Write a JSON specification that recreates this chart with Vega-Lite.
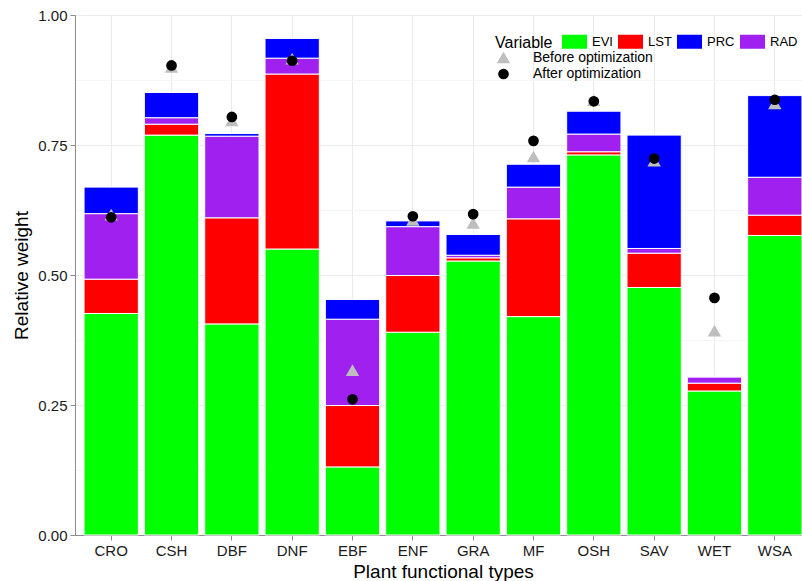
{
  "$schema": "https://vega.github.io/schema/vega-lite/v6.json",
  "width": 727,
  "height": 520,
  "autosize": {"type": "none"},
  "padding": {"left": 75, "top": 15, "right": 0, "bottom": 46},
  "background": "white",
  "config": {
    "font": "Liberation Sans",
    "view": {"stroke": null},
    "axis": {
      "domainColor": "#8c8c8c",
      "tickColor": "#8c8c8c",
      "labelColor": "#1a1a1a",
      "titleColor": "#000000",
      "labelFontSize": 15,
      "titleFontSize": 19,
      "titleFontWeight": "normal",
      "tickSize": 5,
      "labelPadding": 3,
      "gridColor": "#ebebeb"
    },
    "legend": {"labelColor": "#000000", "titleColor": "#000000", "labelFont": "Liberation Sans", "titleFont": "Liberation Sans"}
  },
  "datasets": {
    "bars": [
      {"pft": "CRO", "Variable": "EVI", "w": 0.426}, {"pft": "CRO", "Variable": "LST", "w": 0.066}, {"pft": "CRO", "Variable": "RAD", "w": 0.126}, {"pft": "CRO", "Variable": "PRC", "w": 0.051},
      {"pft": "CSH", "Variable": "EVI", "w": 0.769}, {"pft": "CSH", "Variable": "LST", "w": 0.021}, {"pft": "CSH", "Variable": "RAD", "w": 0.0125}, {"pft": "CSH", "Variable": "PRC", "w": 0.0485},
      {"pft": "DBF", "Variable": "EVI", "w": 0.406}, {"pft": "DBF", "Variable": "LST", "w": 0.204}, {"pft": "DBF", "Variable": "RAD", "w": 0.157}, {"pft": "DBF", "Variable": "PRC", "w": 0.005},
      {"pft": "DNF", "Variable": "EVI", "w": 0.55}, {"pft": "DNF", "Variable": "LST", "w": 0.3365}, {"pft": "DNF", "Variable": "RAD", "w": 0.0305}, {"pft": "DNF", "Variable": "PRC", "w": 0.038},
      {"pft": "EBF", "Variable": "EVI", "w": 0.131}, {"pft": "EBF", "Variable": "LST", "w": 0.118}, {"pft": "EBF", "Variable": "RAD", "w": 0.166}, {"pft": "EBF", "Variable": "PRC", "w": 0.038},
      {"pft": "ENF", "Variable": "EVI", "w": 0.39}, {"pft": "ENF", "Variable": "LST", "w": 0.109}, {"pft": "ENF", "Variable": "RAD", "w": 0.094}, {"pft": "ENF", "Variable": "PRC", "w": 0.011},
      {"pft": "GRA", "Variable": "EVI", "w": 0.527}, {"pft": "GRA", "Variable": "LST", "w": 0.006}, {"pft": "GRA", "Variable": "RAD", "w": 0.005}, {"pft": "GRA", "Variable": "PRC", "w": 0.04},
      {"pft": "MF", "Variable": "EVI", "w": 0.42}, {"pft": "MF", "Variable": "LST", "w": 0.188}, {"pft": "MF", "Variable": "RAD", "w": 0.061}, {"pft": "MF", "Variable": "PRC", "w": 0.044},
      {"pft": "OSH", "Variable": "EVI", "w": 0.731}, {"pft": "OSH", "Variable": "LST", "w": 0.006}, {"pft": "OSH", "Variable": "RAD", "w": 0.034}, {"pft": "OSH", "Variable": "PRC", "w": 0.044},
      {"pft": "SAV", "Variable": "EVI", "w": 0.476}, {"pft": "SAV", "Variable": "LST", "w": 0.066}, {"pft": "SAV", "Variable": "RAD", "w": 0.009}, {"pft": "SAV", "Variable": "PRC", "w": 0.218},
      {"pft": "WET", "Variable": "EVI", "w": 0.277}, {"pft": "WET", "Variable": "LST", "w": 0.015}, {"pft": "WET", "Variable": "RAD", "w": 0.012}, {"pft": "WET", "Variable": "PRC", "w": 0.001},
      {"pft": "WSA", "Variable": "EVI", "w": 0.576}, {"pft": "WSA", "Variable": "LST", "w": 0.039}, {"pft": "WSA", "Variable": "RAD", "w": 0.073}, {"pft": "WSA", "Variable": "PRC", "w": 0.157}
    ],
    "points": [
      {"pft": "CRO", "type": "Before optimization", "value": 0.616},
      {"pft": "CSH", "type": "Before optimization", "value": 0.9},
      {"pft": "DBF", "type": "Before optimization", "value": 0.797},
      {"pft": "DNF", "type": "Before optimization", "value": 0.916},
      {"pft": "EBF", "type": "Before optimization", "value": 0.317},
      {"pft": "ENF", "type": "Before optimization", "value": 0.606},
      {"pft": "GRA", "type": "Before optimization", "value": 0.6},
      {"pft": "MF", "type": "Before optimization", "value": 0.728},
      {"pft": "OSH", "type": "Before optimization", "value": 0.836},
      {"pft": "SAV", "type": "Before optimization", "value": 0.72},
      {"pft": "WET", "type": "Before optimization", "value": 0.393},
      {"pft": "WSA", "type": "Before optimization", "value": 0.83},
      {"pft": "CRO", "type": "After optimization", "value": 0.611},
      {"pft": "CSH", "type": "After optimization", "value": 0.903},
      {"pft": "DBF", "type": "After optimization", "value": 0.804},
      {"pft": "DNF", "type": "After optimization", "value": 0.912},
      {"pft": "EBF", "type": "After optimization", "value": 0.261},
      {"pft": "ENF", "type": "After optimization", "value": 0.613},
      {"pft": "GRA", "type": "After optimization", "value": 0.617},
      {"pft": "MF", "type": "After optimization", "value": 0.758},
      {"pft": "OSH", "type": "After optimization", "value": 0.834},
      {"pft": "SAV", "type": "After optimization", "value": 0.724},
      {"pft": "WET", "type": "After optimization", "value": 0.456},
      {"pft": "WSA", "type": "After optimization", "value": 0.837}
    ]
  },
  "layer": [
    {
      "data": {"name": "bars"},
      "transform": [{"calculate": "indexof(['EVI','LST','RAD','PRC'], datum.Variable)", "as": "ord"}],
      "mark": {"type": "bar", "stroke": "white", "strokeWidth": 1},
      "encoding": {
        "x": {
          "field": "pft", "type": "nominal", "title": "Plant functional types",
          "scale": {"range": [0, 736], "paddingInner": 0.1, "paddingOuter": 0.15},
          "axis": {"bandPosition": 0.5, "labelAngle": 0, "grid": true, "titlePadding": 4}
        },
        "y": {
          "field": "w", "type": "quantitative", "stack": "zero", "title": "Relative weight",
          "scale": {"domain": [0, 1], "nice": false},
          "axis": {
            "values": [0, 0.125, 0.25, 0.375, 0.5, 0.625, 0.75, 0.875, 1],
            "labelExpr": "datum.value % 0.25 === 0 ? format(datum.value, '.2f') : ''",
            "tickColor": {"condition": {"test": "datum.value % 0.25 !== 0", "value": "transparent"}, "value": "#8c8c8c"},
            "gridColor": {"condition": {"test": "datum.value % 0.25 !== 0", "value": "#f5f5f5"}, "value": "#ebebeb"},
            "titlePadding": 6
          }
        },
        "fill": {
          "field": "Variable", "type": "nominal",
          "scale": {"domain": ["EVI", "LST", "PRC", "RAD"], "range": ["#00ff00", "#ff0000", "#0000ff", "#a020f0"]},
          "legend": {
            "orient": "none", "legendX": 420, "legendY": 14, "direction": "horizontal", "columns": 4,
            "titleOrient": "left", "titleBaseline": "line-top", "titleLineHeight": 9, "title": "Variable", "titleFontSize": 16, "titleFontWeight": "normal", "titlePadding": 9,
            "symbolType": "M-1,-0.56L1,-0.56L1,0.56L-1,0.56Z", "symbolSize": 625, "symbolStrokeWidth": 0,
            "labelFontSize": 13, "labelOffset": 5, "columnPadding": 5
          }
        },
        "order": {"field": "ord", "type": "quantitative"}
      }
    },
    {
      "data": {"name": "points"},
      "mark": {"type": "point", "filled": true, "opacity": 1},
      "encoding": {
        "x": {"field": "pft", "type": "nominal"},
        "y": {"field": "value", "type": "quantitative"},
        "shape": {
          "field": "type", "type": "nominal",
          "scale": {"domain": ["Before optimization", "After optimization"], "range": ["triangle-up", "circle"]},
          "legend": {"orient": "none", "legendX": 421, "legendY": 35, "title": null, "direction": "vertical", "labelFontSize": 14, "labelOffset": 22, "rowPadding": 2}
        },
        "color": {
          "field": "type", "type": "nominal",
          "scale": {"domain": ["Before optimization", "After optimization"], "range": ["#bebebe", "#000000"]},
          "legend": {"orient": "none", "legendX": 421, "legendY": 35, "title": null, "direction": "vertical", "labelFontSize": 14, "labelOffset": 22, "rowPadding": 2}
        },
        "size": {
          "field": "type", "type": "nominal",
          "scale": {"domain": ["Before optimization", "After optimization"], "range": [180, 115]},
          "legend": {"orient": "none", "legendX": 421, "legendY": 35, "title": null, "direction": "vertical", "labelFontSize": 14, "labelOffset": 22, "rowPadding": 2}
        }
      }
    }
  ]
}
